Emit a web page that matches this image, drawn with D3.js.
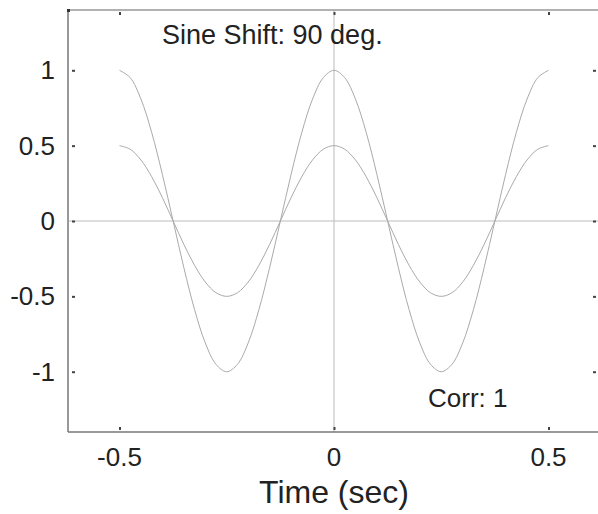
<!DOCTYPE html>
<html>
<head>
<meta charset="utf-8">
<script src="https://cdn.jsdelivr.net/npm/d3@7"></script>
<style>
  body { margin: 0; background: #fff; }
  text { font-family: "Liberation Sans", Arial, Helvetica, sans-serif; fill: #222; }
</style>
</head>
<body>
<svg id="myGraph" width="598" height="514"></svg>
<script>
// sampled time points (sec)
var times = [-0.5, -0.475, -0.45, -0.425, -0.4, -0.375, -0.35, -0.325, -0.3, -0.275,
  -0.25, -0.225, -0.2, -0.175, -0.15, -0.125, -0.1, -0.075, -0.05, -0.025,
  0, 0.025, 0.05, 0.075, 0.1, 0.125, 0.15, 0.175, 0.2, 0.225,
  0.25, 0.275, 0.3, 0.325, 0.35, 0.375, 0.4, 0.425, 0.45, 0.475, 0.5];

// full amplitude wave
var bigWave = [1, 0.951, 0.809, 0.588, 0.309, 0, -0.309, -0.588, -0.809, -0.951,
  -1, -0.951, -0.809, -0.588, -0.309, 0, 0.309, 0.588, 0.809, 0.951,
  1, 0.951, 0.809, 0.588, 0.309, 0, -0.309, -0.588, -0.809, -0.951,
  -1, -0.951, -0.809, -0.588, -0.309, 0, 0.309, 0.588, 0.809, 0.951, 1];

// half amplitude wave
var smallWave = [0.5, 0.476, 0.405, 0.294, 0.155, 0, -0.155, -0.294, -0.405, -0.476,
  -0.5, -0.476, -0.405, -0.294, -0.155, 0, 0.155, 0.294, 0.405, 0.476,
  0.5, 0.476, 0.405, 0.294, 0.155, 0, -0.155, -0.294, -0.405, -0.476,
  -0.5, -0.476, -0.405, -0.294, -0.155, 0, 0.155, 0.294, 0.405, 0.476, 0.5];

var xTicks = [-0.5, 0, 0.5];
var yTicks = [1, 0.5, 0, -0.5, -1];

var titleText = "Sine Shift: 90 deg.";
var corrText = "Corr: 1";
var xLabel = "Time (sec)";

var plotLeft = 68, plotRight = 600, plotTop = 10, plotBottom = 432;

var svg = d3.select("#myGraph");

var xScale = d3.scaleLinear().domain([-0.62, 0.62]).range([plotLeft, plotRight]);
var yScale = d3.scaleLinear().domain([-1.4, 1.4]).range([plotBottom, plotTop]);

// zero lines
svg.append("line")
  .attr("x1", plotLeft).attr("x2", plotRight)
  .attr("y1", yScale(0)).attr("y2", yScale(0))
  .attr("stroke", "#bbb").attr("stroke-width", 1);
svg.append("line")
  .attr("x1", xScale(0)).attr("x2", xScale(0))
  .attr("y1", plotTop).attr("y2", plotBottom)
  .attr("stroke", "#bbb").attr("stroke-width", 1);

// curves
var line = d3.line()
  .x(function(d, i){ return xScale(times[i]); })
  .y(function(d){ return yScale(d); })
  .curve(d3.curveCatmullRom);

[bigWave, smallWave].forEach(function(s){
  svg.append("path")
    .attr("d", line(s))
    .attr("fill", "none")
    .attr("stroke", "#aaa")
    .attr("stroke-width", 1);
});

// frame
svg.append("line")
  .attr("x1", plotLeft).attr("x2", plotLeft).attr("y1", plotTop).attr("y2", plotBottom)
  .attr("stroke", "#999").attr("stroke-width", 2);
svg.append("line")
  .attr("x1", plotLeft).attr("x2", plotRight).attr("y1", plotBottom).attr("y2", plotBottom)
  .attr("stroke", "#777").attr("stroke-width", 1.5);
svg.append("line")
  .attr("x1", plotLeft).attr("x2", plotRight).attr("y1", plotTop).attr("y2", plotTop)
  .attr("stroke", "#999").attr("stroke-width", 1.5);
svg.append("rect")
  .attr("x", plotLeft - 1).attr("y", plotTop - 1).attr("width", 3).attr("height", 3)
  .attr("fill", "#333");

// axes (tiny inward ticks)
var yAxisL = d3.axisRight(yScale).tickValues(yTicks).tickSize(3).tickFormat("");
var yAxisR = d3.axisLeft(yScale).tickValues(yTicks).tickSize(3).tickFormat("");
var xAxisB = d3.axisTop(xScale).tickValues(xTicks).tickSize(3).tickFormat("");
var xAxisT = d3.axisBottom(xScale).tickValues(xTicks).tickSize(3).tickFormat("");

svg.append("g").attr("transform", "translate(" + (plotLeft + 4) + ",0)").call(yAxisL);
svg.append("g").attr("transform", "translate(" + (plotRight - 4) + ",0)").call(yAxisR);
svg.append("g").attr("transform", "translate(0," + (plotBottom - 2) + ")").call(xAxisB);
svg.append("g").attr("transform", "translate(0," + (plotTop + 2) + ")").call(xAxisT);
svg.selectAll(".domain").remove();
svg.selectAll(".tick line").attr("stroke", "#444").attr("stroke-width", 2);

// tick labels
svg.selectAll("text.ylab")
  .data(yTicks)
  .enter()
  .append("text")
  .attr("class", "ylab")
  .attr("x", 55)
  .attr("y", function(d){ return yScale(d) + 9; })
  .attr("text-anchor", "end")
  .attr("font-size", 26)
  .text(function(d){ return d; });

svg.selectAll("text.xlab")
  .data(xTicks)
  .enter()
  .append("text")
  .attr("class", "xlab")
  .attr("x", function(d){ return xScale(d); })
  .attr("y", 466)
  .attr("text-anchor", "middle")
  .attr("font-size", 26)
  .text(function(d){ return d; });

// texts
svg.append("text")
  .attr("x", 162).attr("y", 44)
  .attr("font-size", 27)
  .text(titleText);

svg.append("text")
  .attr("x", 428).attr("y", 407)
  .attr("font-size", 26)
  .text(corrText);

svg.append("text")
  .attr("x", xScale(0)).attr("y", 503)
  .attr("text-anchor", "middle")
  .attr("font-size", 32)
  .text(xLabel);
</script>
</body>
</html>
